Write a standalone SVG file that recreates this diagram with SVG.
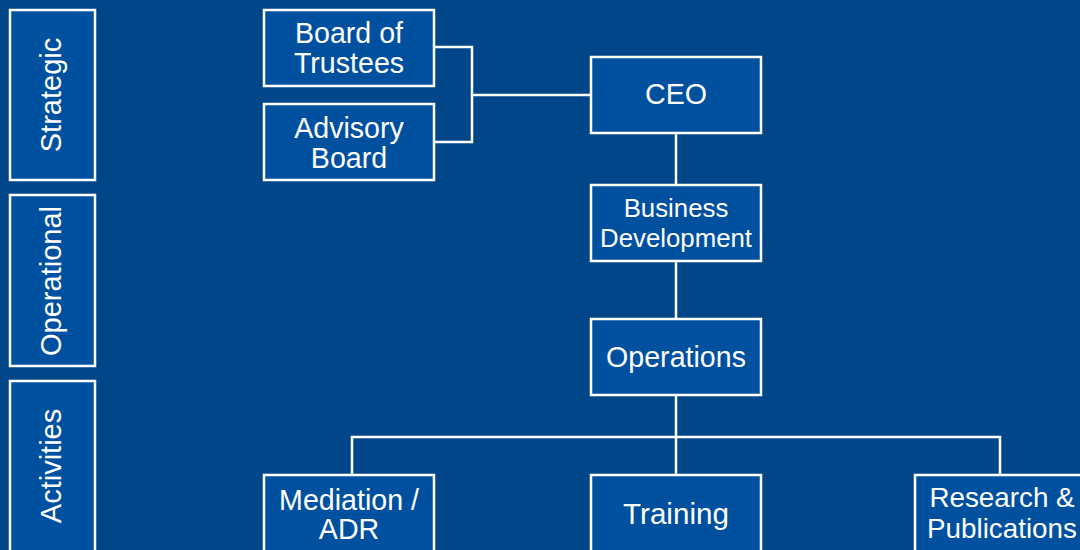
<svg xmlns="http://www.w3.org/2000/svg" width="1080" height="550" viewBox="0 0 1080 550">
<style>
.n{fill:#0050a0;stroke:#ffffff;stroke-width:2.5}
.t{fill:#ffffff;font-family:"Liberation Sans",Arial,sans-serif;text-anchor:middle}
.c{fill:none;stroke:#ffffff;stroke-width:2.5}
</style>
<rect x="0" y="0" width="1080" height="550" fill="#02468a"/>
<g id="tier-strategic"><rect class="n" x="10" y="10" width="85" height="170"/><text class="t" font-size="29" transform="translate(61,95) rotate(-90)">Strategic</text></g>
<g id="tier-operational"><rect class="n" x="10" y="195" width="85" height="171"/><text class="t" font-size="29" transform="translate(61,281) rotate(-90)">Operational</text></g>
<g id="tier-activities"><rect class="n" x="10" y="381" width="85" height="180"/><text class="t" font-size="29" transform="translate(61,466) rotate(-90)">Activities</text></g>
<g id="connectors">
<polyline class="c" points="434,47 472,47 472,142 434,142"/>
<line class="c" x1="472" y1="95" x2="591" y2="95"/>
<line class="c" x1="676" y1="133" x2="676" y2="185"/>
<line class="c" x1="676" y1="261" x2="676" y2="319"/>
<line class="c" x1="676" y1="395" x2="676" y2="475"/>
<polyline class="c" points="352,475 352,437 1000,437 1000,475"/>
</g>
<g id="board-of-trustees"><rect class="n" x="264" y="10" width="170" height="76"/><text class="t" font-size="28.6" x="349" y="43">Board of</text><text class="t" font-size="28.6" x="349" y="73">Trustees</text></g>
<g id="advisory-board"><rect class="n" x="264" y="104" width="170" height="76"/><text class="t" font-size="28.6" x="349" y="138">Advisory</text><text class="t" font-size="28.6" x="349" y="168">Board</text></g>
<g id="ceo"><rect class="n" x="591" y="57" width="170" height="76"/><text class="t" font-size="28.6" x="676" y="104">CEO</text></g>
<g id="business-development"><rect class="n" x="591" y="185" width="170" height="76"/><text class="t" font-size="25.8" x="676" y="217">Business</text><text class="t" font-size="25.8" x="676" y="247">Development</text></g>
<g id="operations"><rect class="n" x="591" y="319" width="170" height="76"/><text class="t" font-size="28.6" x="676" y="367">Operations</text></g>
<g id="mediation-adr"><rect class="n" x="264" y="475" width="170" height="90"/><text class="t" font-size="28.6" x="349" y="510">Mediation /</text><text class="t" font-size="28.6" x="349" y="539">ADR</text></g>
<g id="training"><rect class="n" x="591" y="475" width="170" height="90"/><text class="t" font-size="29.6" x="676" y="524">Training</text></g>
<g id="research-publications"><rect class="n" x="915" y="475" width="170" height="90"/><text class="t" font-size="27.8" x="1002" y="507">Research &amp;</text><text class="t" font-size="27.8" x="1002" y="538">Publications</text></g>
</svg>
